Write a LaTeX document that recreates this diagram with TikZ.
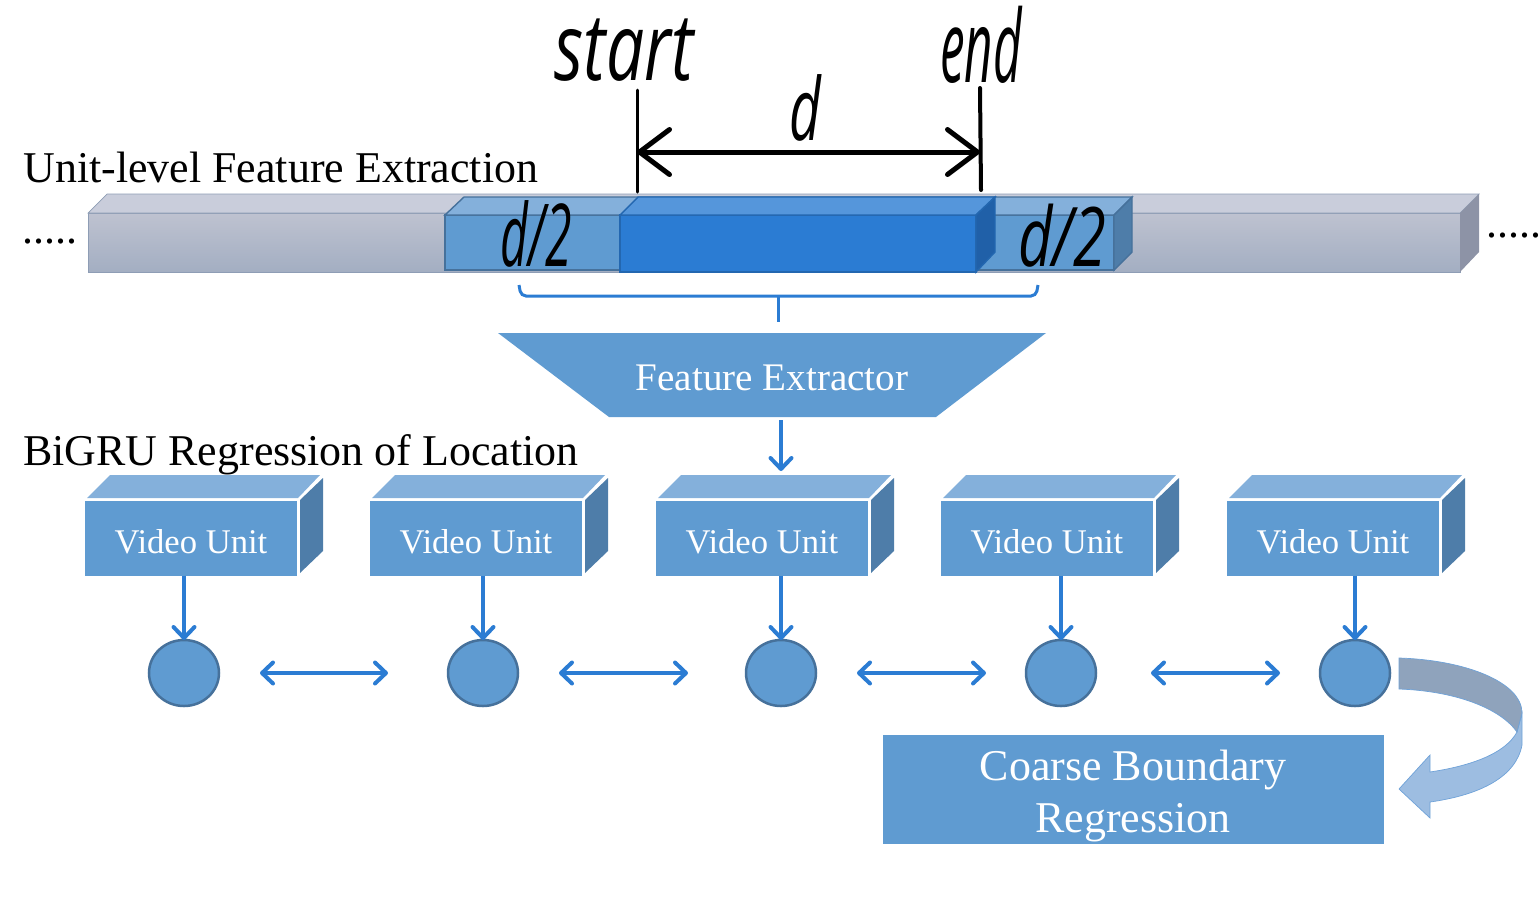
\documentclass[tikz,border=0pt]{standalone}
\usepackage{fontspec}
\setmainfont{Liberation Serif}
\newfontfamily\handfont{Open Sans}
\usetikzlibrary{arrows.meta,shapes.geometric}
\definecolor{unitfront}{HTML}{5F9BD1}
\definecolor{unittop}{HTML}{84B0DB}
\definecolor{unitside}{HTML}{4E7DA9}
\definecolor{unitedge}{HTML}{46719B}
\definecolor{corefront}{HTML}{2B7CD3}
\definecolor{coretop}{HTML}{5596DB}
\definecolor{coreside}{HTML}{2060A8}
\definecolor{coreedge}{HTML}{2367B0}
\definecolor{barlight}{HTML}{BEC2D0}
\definecolor{bardark}{HTML}{A3AEC2}
\definecolor{bartop}{HTML}{C9CDDB}
\definecolor{barside}{HTML}{8D93A6}
\definecolor{baredge}{HTML}{8E9DB5}
\definecolor{linkblue}{HTML}{2B7CD3}
\definecolor{curvedark}{HTML}{8FA3BC}
\definecolor{curvelight}{HTML}{9DBDE1}
\definecolor{curveedge}{HTML}{6FA2D8}
\tikzset{
  caption/.style={anchor=base west,inner sep=0pt,font=\fontsize{25}{28}\selectfont},
  unitbox/.style={rectangle,fill=unitfront,text=white,inner sep=0pt,outer sep=0pt,minimum width=42.4mm,minimum height=15mm,text height=6mm,text depth=0mm,font=\fontsize{19.7}{23}\selectfont},
  gruball/.style={ellipse,draw=unitedge,line width=0.5mm,fill=unitfront,inner sep=0pt,outer sep=0pt,minimum width=14mm,minimum height=13.2mm},
  link/.style={draw=linkblue,line width=0.8mm,-{Straight Barb[round,length=2.2mm,width=4.2mm]}},
  twolink/.style={draw=linkblue,line width=0.8mm,{Straight Barb[round,length=2.2mm,width=4.2mm]}-{Straight Barb[round,length=2.2mm,width=4.2mm]}},
  hand/.style={black,line width=1mm,line cap=round},
  handtext/.style={inner sep=0pt,font=\handfont\itshape}
}
\begin{document}
\begin{tikzpicture}[x=0.2mm,y=-0.2mm]
\useasboundingbox (0,0) rectangle (1540,920);
\node[caption] (unitcap) at (23,182) {Unit-level Feature Extraction};
\node[caption] (grucap) at (23,465) {BiGRU Regression of Location};
\node[caption] (dotsleft) at (22,243) {.....};
\node[caption] (dotsright) at (1486,237) {.....};
% long bar
\fill[top color=barlight,bottom color=bardark,draw=baredge,thin] (88,213) rectangle (1460,272);
\fill[bartop,draw=baredge,thin] (88,213)--(107,194)--(1479,194)--(1460,213)--cycle;
\fill[barside] (1460,213)--(1479,194)--(1479,252)--(1460,272)--cycle;
% light block
\fill[unitfront,draw=unitedge,thick] (445,215) rectangle (1114,270);
\fill[unittop,draw=unitedge,thick] (445,215)--(464,197)--(1132,197)--(1114,215)--cycle;
\fill[unitside,draw=unitedge,thick] (1114,215)--(1132,197)--(1132,252)--(1114,270)--cycle;
% selected block
\fill[corefront,draw=coreedge,thick] (620,215) rectangle (976,272);
\fill[coretop,draw=coreedge,thick] (620,215)--(638,197)--(995,197)--(976,215)--cycle;
\fill[coreside,draw=coreedge,thick] (976,215)--(995,197)--(995,252)--(976,272)--cycle;
% handwriting
\node[handtext] (starttext) at (624,50) {\scalebox{1.48}[2.05]{\fontsize{26}{30}\selectfont start}};
\node[handtext] (endtext) at (981,45) {\scalebox{1.08}[2.2]{\fontsize{26}{30}\selectfont end}};
\node[handtext] (dtext) at (805,108) {\scalebox{1.2}[1.9]{\fontsize{26}{30}\selectfont d}};
\node[handtext] (halfleft) at (536,234) {\scalebox{1.05}[1.9]{\fontsize{26}{30}\selectfont d/2}};
\node[handtext] (halfright) at (1062,236) {\scalebox{1.3}[1.8]{\fontsize{26}{30}\selectfont d/2}};
\coordinate (starttop) at (637,90);
\coordinate (startbot) at (637,192);
\coordinate (endtop) at (980,88);
\coordinate (endbot) at (981,190);
\coordinate (startmid) at (637,152);
\coordinate (endmid) at (980,152);
\draw[hand,line width=0.6mm] (starttop)--(startbot);
\draw[hand,line width=0.8mm] (endtop)--(endbot);
\draw[hand,{Straight Barb[round,length=6mm,width=9mm]}-{Straight Barb[round,length=6mm,width=9mm]}] (startmid)--(endmid);
% bracket
\coordinate (bracketmid) at (778,296);
\coordinate (bracketend) at (778,322);
\draw[linkblue,line width=0.6mm,rounded corners=1mm] (519,285)--(521,296)--(1036,296)--(1038,285);
\draw[linkblue,line width=0.6mm] (bracketmid)--(bracketend);
% extractor
\fill[unitfront] (498,333)--(1046,333)--(936,417)--(609,417)--cycle;
\node[text=white,inner sep=0pt,font=\fontsize{22.25}{26}\selectfont] (extractor) at (772,378) {Feature Extractor};
\coordinate (extractorbot) at (781,420);
% video units
\fill[unittop] (87,498)--(110,475)--(320,475)--(298,498)--cycle;
\fill[unitside] (300,500)--(323,478)--(323,551)--(300,573)--cycle;
\node[unitbox] (unitA) at (191,538) {Video Unit};
\fill[unittop] (372,498)--(395,475)--(605,475)--(583,498)--cycle;
\fill[unitside] (585,500)--(608,478)--(608,551)--(585,573)--cycle;
\node[unitbox] (unitB) at (476,538) {Video Unit};
\fill[unittop] (658,498)--(681,475)--(891,475)--(869,498)--cycle;
\fill[unitside] (871,500)--(894,478)--(894,551)--(871,573)--cycle;
\node[unitbox] (unitC) at (762,538) {Video Unit};
\fill[unittop] (943,498)--(966,475)--(1176,475)--(1154,498)--cycle;
\fill[unitside] (1156,500)--(1179,478)--(1179,551)--(1156,573)--cycle;
\node[unitbox] (unitD) at (1047,538) {Video Unit};
\fill[unittop] (1229,498)--(1252,475)--(1462,475)--(1440,498)--cycle;
\fill[unitside] (1442,500)--(1465,478)--(1465,551)--(1442,573)--cycle;
\node[unitbox] (unitE) at (1333,538) {Video Unit};
% gru cells
\node[gruball] (gruA) at (184,673) {};
\node[gruball] (gruB) at (483,673) {};
\node[gruball] (gruC) at (781,673) {};
\node[gruball] (gruD) at (1061,673) {};
\node[gruball] (gruE) at (1355,673) {};
\coordinate (unitCtop) at (781,471);
\draw[link] (extractorbot)--(unitCtop);
\draw[link] (unitA.south -| gruA)--(gruA.north);
\draw[link] (unitB.south -| gruB)--(gruB.north);
\draw[link] (unitC.south -| gruC)--(gruC.north);
\draw[link] (unitD.south -| gruD)--(gruD.north);
\draw[link] (unitE.south -| gruE)--(gruE.north);
\draw[twolink] ([xshift=8.2mm]gruA.east)--([xshift=-12mm]gruB.west);
\draw[twolink] ([xshift=8.2mm]gruB.east)--([xshift=-11.6mm]gruC.west);
\draw[twolink] ([xshift=8.2mm]gruC.east)--([xshift=-8mm]gruD.west);
\draw[twolink] ([xshift=11mm]gruD.east)--([xshift=-8mm]gruE.west);
% coarse boundary
\node[rectangle,fill=unitfront,inner sep=0pt,outer sep=0pt,minimum width=100.2mm,minimum height=21.8mm] (coarse) at (1133.5,789.5) {};
\node[text=white,inner sep=0pt,align=center,font=\fontsize{25}{29.5}\selectfont] (coarsetext) at (1133,796) {Coarse Boundary\\Regression};
% curved arrow
\fill[curvelight,draw=curveedge,thin] (1522,713)--(1522,745) .. controls (1516,777) and (1480,795) .. (1430,802)--(1430,818)--(1399,789)--(1430,755)--(1430,772) .. controls (1470,766) and (1505,754) .. (1517,732)--cycle;
\fill[curvedark,draw=curveedge,thin] (1399,658) .. controls (1465,660) and (1522,682) .. (1522,713)--(1517,732) .. controls (1500,708) and (1455,691) .. (1399,689)--cycle;
\end{tikzpicture}
\end{document}
